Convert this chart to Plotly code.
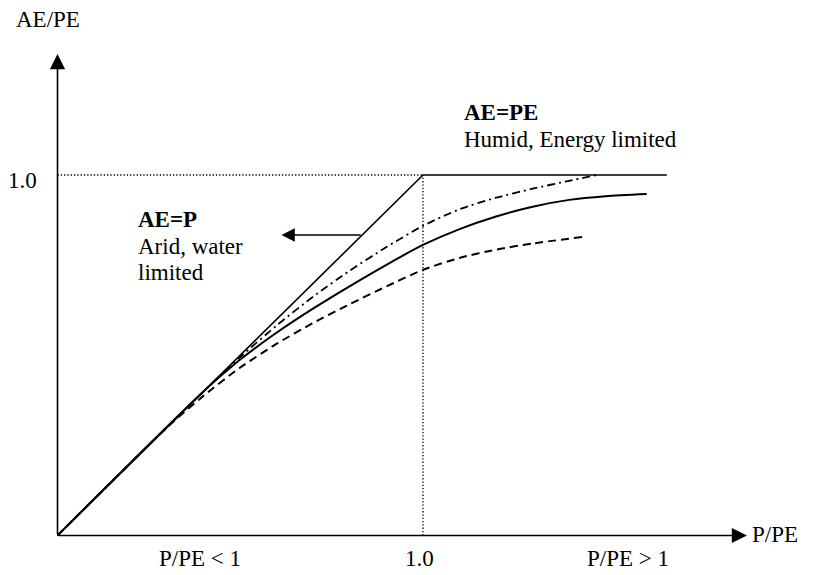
import plotly.graph_objects as go

# ---------------- data ----------------
LIMIT_X = [0.0, 1.0, 1.667]
LIMIT_Y = [0.0, 1.0, 1.0]

DASHDOT_X = [0.0, 0.40, 0.50, 0.60, 0.70, 0.80, 0.90, 1.00, 1.10, 1.20, 1.30, 1.40, 1.475]
DASHDOT_Y = [0.0, 0.40, 0.495, 0.583, 0.663, 0.735, 0.800, 0.859, 0.905, 0.937, 0.962, 0.984, 1.0]

SOLID_X = [0.0, 0.40, 0.50, 0.60, 0.70, 0.80, 0.90, 1.00, 1.10, 1.20, 1.30, 1.40, 1.50, 1.612]
SOLID_Y = [0.0, 0.40, 0.488, 0.563, 0.630, 0.692, 0.751, 0.806, 0.850, 0.885, 0.912, 0.931, 0.941, 0.947]

DASHED_X = [0.0, 0.30, 0.40, 0.50, 0.60, 0.70, 0.80, 0.90, 1.00, 1.10, 1.20, 1.30, 1.436]
DASHED_Y = [0.0, 0.30, 0.388, 0.466, 0.532, 0.590, 0.642, 0.691, 0.737, 0.770, 0.793, 0.810, 0.828]

GUIDE_H_X = [0.0, 1.0]
GUIDE_H_Y = [1.0, 1.0]
GUIDE_V_X = [1.0, 1.0]
GUIDE_V_Y = [0.0, 1.0]

Y_AXIS_TITLE = "AE/PE"
X_AXIS_TITLE = "P/PE"
Y_TICK_LABEL = "1.0"
X_TICK_LABEL = "1.0"
X_REGION_LEFT = "P/PE < 1"
X_REGION_RIGHT = "P/PE > 1"
HUMID_TITLE = "AE=PE"
HUMID_TEXT = "Humid, Energy limited"
ARID_TITLE = "AE=P"
ARID_TEXT = ["Arid, water", "limited"]

# ---------------- layout helpers (page pixel -> data) ----------------
PAGE_OFF = 8           # default body margin of the page
W, H = 814 - PAGE_OFF, 575 - PAGE_OFF
X0P, XS = 57.5, 365.5
Y0P, YS = 535.5, 360.5


def dx(p):
    return (p - X0P) / XS


def dy(p):
    return (Y0P - p) / YS


FONT = "Liberation Serif, Times New Roman, serif"
FS = 23
BLACK = "#000000"

fig = go.Figure()

# dotted guide lines
for gx, gy in ((GUIDE_H_X, GUIDE_H_Y), (GUIDE_V_X, GUIDE_V_Y)):
    fig.add_trace(go.Scatter(x=gx, y=gy, mode="lines",
                             line=dict(color=BLACK, width=1.3, dash="1.3px,2px"),
                             hoverinfo="skip"))

# limits
fig.add_trace(go.Scatter(x=LIMIT_X, y=LIMIT_Y, mode="lines",
                         line=dict(color=BLACK, width=1.6)))
# curves
fig.add_trace(go.Scatter(x=DASHDOT_X, y=DASHDOT_Y, mode="lines",
                         line=dict(color=BLACK, width=1.8, dash="8px,4px,2px,4px",
                                   shape="spline", smoothing=0.7)))
fig.add_trace(go.Scatter(x=SOLID_X, y=SOLID_Y, mode="lines",
                         line=dict(color=BLACK, width=2, shape="spline", smoothing=0.7)))
fig.add_trace(go.Scatter(x=DASHED_X, y=DASHED_Y, mode="lines",
                         line=dict(color=BLACK, width=2, dash="8px,5px",
                                   shape="spline", smoothing=0.7)))

annotations = []

# axis arrows
annotations.append(dict(x=dx(747), y=0, ax=0, ay=0, xref="x", yref="y",
                        axref="x", ayref="y", showarrow=True, arrowhead=2,
                        arrowsize=1.9, arrowwidth=1.6, arrowcolor=BLACK, text=""))
annotations.append(dict(x=0, y=dy(54), ax=0, ay=0, xref="x", yref="y",
                        axref="x", ayref="y", showarrow=True, arrowhead=2,
                        arrowsize=1.9, arrowwidth=1.6, arrowcolor=BLACK, text=""))
# arid arrow
ya = dy(235)
annotations.append(dict(x=dx(281.5), y=ya, ax=ya, ay=ya, xref="x", yref="y",
                        axref="x", ayref="y", showarrow=True, arrowhead=2,
                        arrowsize=1.9, arrowwidth=1.4, arrowcolor=BLACK, text=""))


def label(text, xp, yp, xanchor="left", bold=False, size=FS):
    t = f"<b>{text}</b>" if bold else text
    annotations.append(dict(x=dx(xp), y=dy(yp), xref="x", yref="y", text=t,
                            showarrow=False, xanchor=xanchor, yanchor="middle",
                            font=dict(family=FONT, size=size, color=BLACK)))


label(Y_AXIS_TITLE, 14, 19.5)
label(Y_TICK_LABEL, 39, 180, xanchor="right")
label(X_REGION_LEFT, 200, 558, xanchor="center")
label(X_TICK_LABEL, 419, 558, xanchor="center")
label(X_REGION_RIGHT, 627.5, 558, xanchor="center")
label(X_AXIS_TITLE, 750, 534)
label(HUMID_TITLE, 462, 112.5, bold=True)
label(HUMID_TEXT, 462, 139.3)
label(ARID_TITLE, 136, 219.3, bold=True)
label(ARID_TEXT[0], 136, 246)
label(ARID_TEXT[1], 136, 272.6)

fig.update_layout(
    width=W, height=H,
    margin=dict(l=0, r=0, t=0, b=0),
    paper_bgcolor="white", plot_bgcolor="white",
    showlegend=False,
    xaxis=dict(range=[dx(PAGE_OFF), dx(PAGE_OFF + W)], visible=False, fixedrange=True),
    yaxis=dict(range=[dy(PAGE_OFF + H), dy(PAGE_OFF)], visible=False, fixedrange=True),
    annotations=annotations,
)

fig.write_html("out.html")
